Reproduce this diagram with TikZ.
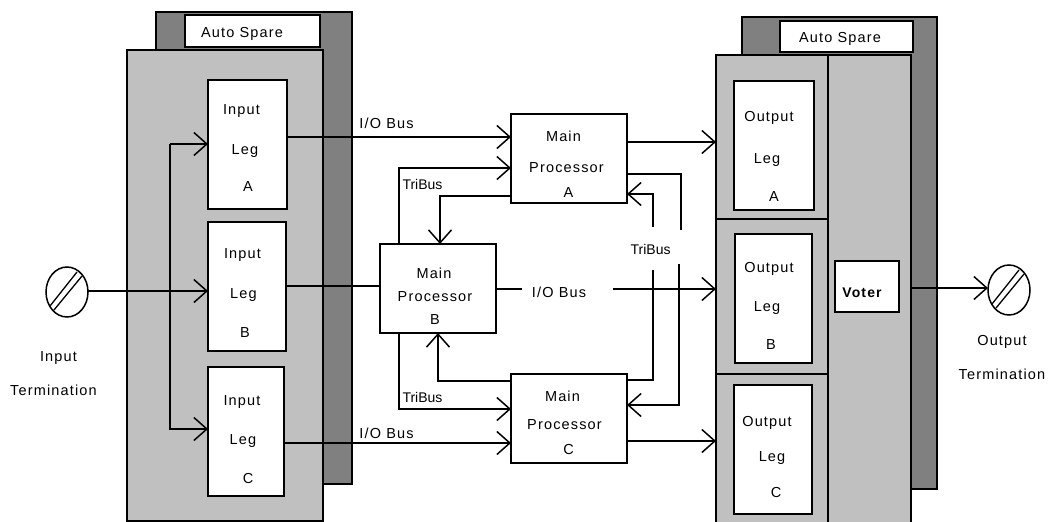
\documentclass[tikz,border=0pt]{standalone}
\usepackage{fontspec}
\setmainfont{Liberation Sans}[LetterSpace=8]
\newfontfamily\tightfont{Liberation Sans}
\usetikzlibrary{positioning, arrows.meta, shapes.geometric}
\definecolor{panelGrey}{HTML}{C0C0C0}
\definecolor{backGrey}{HTML}{808080}
\tikzset{
  blockbox/.style={draw=black, line width=1.5pt, inner sep=0pt, outer sep=0pt},
  backbox/.style={blockbox, fill=backGrey},
  panelbox/.style={blockbox, fill=panelGrey},
  whitebox/.style={blockbox, fill=white},
  lbl/.style={inner sep=0pt, text height=11pt, text depth=3pt, font=\fontsize{14.5}{16}\selectfont},
  tightlbl/.style={lbl, font=\fontsize{14}{16}\selectfont\tightfont},
  wire/.style={draw=black, line width=1.5pt},
  bus/.style={wire, -{Straight Barb[length=13pt,width=23pt,line width=1.5pt]}},
  termdisc/.style={ellipse, draw=black, line width=1.5pt, fill=white, inner sep=0pt, outer sep=0pt,
    minimum width=42pt, minimum height=50pt},
}
% corners left, top, right, bottom
\newcommand{\blk}[6]{%
  \node[#1, minimum width={#4-#2}, minimum height={#5-#3}] (#6) at ({(#2+#4)/2},{(#3+#5)/2}) {};
}
\newcommand{\termdisc}[3]{%
  \node[termdisc] (#1) at (#2,#3) {};
  \draw[line width=1.3pt] (#2-17,#3+14) -- (#2+10,#3-20);
  \draw[line width=1.3pt] (#2-13,#3+18) -- (#2+15,#3-16);
}
\begin{document}
\begin{tikzpicture}[x=1pt,y=-1pt]
  \useasboundingbox (0,0) rectangle (1050,522);
  % input side
  \blk{backbox}{156}{12}{352}{484}{inBack}
  \blk{whitebox}{185}{15}{320}{47}{inSpare}
  \blk{panelbox}{127}{50}{323}{521}{inPanel}
  \blk{whitebox}{208}{80}{287}{209}{legInA}
  \blk{whitebox}{208}{222}{286}{351}{legInB}
  \blk{whitebox}{208}{367}{284}{496}{legInC}
  % output side
  \blk{backbox}{742}{17}{937}{489}{outBack}
  \blk{whitebox}{780}{21}{913}{52}{outSpare}
  \blk{panelbox}{716}{55}{911}{530}{outPanel}
  \draw[wire] (828,55) -- (828,530);
  \draw[wire] (716,219) -- (828,219);
  \draw[wire] (716,374) -- (828,374);
  \blk{whitebox}{734}{81}{814}{210}{legOutA}
  \blk{whitebox}{735}{234}{812}{363}{legOutB}
  \blk{whitebox}{734}{385}{812}{514}{legOutC}
  \blk{whitebox}{835}{261}{899}{312}{voter}
  % processors
  \blk{whitebox}{511}{114}{627}{203}{procA}
  \blk{whitebox}{380}{244}{496}{333}{procB}
  \blk{whitebox}{511}{374}{627}{463}{procC}
  \termdisc{inTerm}{67}{292}
  \termdisc{outTerm}{1009}{290}
  % box texts
  \foreach \n/\x/\y/\t in {a/242/33/Auto Spare, b/840/38/Auto Spare,
      c/241.5/110/Input, d/245/150/Leg, e/248/187/A,
      f/242.5/254/Input, g/243.5/294/Leg, h/245/333/B,
      i/242/401/Input, j/243/440/Leg, k/248/479/C,
      l/563.5/137/Main, m/566.5/168/Processor, n/568.5/193/A,
      o/434/274/Main, p/435/297/Processor, q/435/320/B,
      r/562.5/397/Main, s/564.5/425/Processor, t/568.5/450/C,
      u/769/117/Output, v/767/159/Leg, w/774/197/A,
      x/769/268/Output, y/767/307/Leg, z/771/345/B,
      aa/767/422/Output, ab/772/457/Leg, ac/776/493/C,
      ad/58.5/357/Input, ae/53.5/391/Termination,
      af/1002/341/Output, ag/1002/375/Termination,
      ah/386.5/124/{I/O Bus}, ai/386.5/434/{I/O Bus}, aj/559/293/{I/O Bus}} {
    \node[lbl] (txt\n) at (\x,\y) {\t};
  }
  \node[tightlbl] (triA) at (422.5,185) {TriBus};
  \node[tightlbl] (triB) at (422.5,398) {TriBus};
  \node[tightlbl] (triR) at (650.6,250) {TriBus};
  \node[lbl, font=\fontsize{14}{16}\selectfont\bfseries] (voterTxt) at (862,293) {Voter};
  % gap ends of the cut wires
  \coordinate (ioGapL) at (522,289);
  \coordinate (ioGapR) at (613,289);
  \coordinate (upEnd) at (681,230);
  \coordinate (downStart) at (679,264);
  \coordinate (riseEnd) at (653,270);
  \coordinate (riseStart) at (653,227);
  % input wiring
  \draw[wire] (170,291) -- (170,144);
  \draw[bus] (170,144) -- (legInA.west |- 0,144);
  \draw[bus] (170,291) -- (170,429) -- (legInC.west |- 0,429);
  \draw[bus] (inTerm.east |- 0,291) -- (legInB.west |- 0,291);
  % legs to processors
  \draw[bus] (legInA.east |- 0,137) -- (procA.west |- 0,137);
  \draw[wire] (legInB.east |- 0,286) -- (procB.west |- 0,286);
  \draw[bus] (legInC.east |- 0,443) -- (procC.west |- 0,443);
  % processors to output legs
  \draw[bus] (procA.east |- 0,142) -- (outPanel.west |- 0,142);
  \draw[wire] (procB.east |- 0,289) -- (ioGapL);
  \draw[bus] (ioGapR) -- (outPanel.west |- 0,289);
  \draw[bus] (procC.east |- 0,441) -- (outPanel.west |- 0,441);
  % tribus left
  \draw[bus] (399,244) -- (399,168) -- (procA.west |- 0,168);
  \draw[bus] (procA.west |- 0,196) -- (440,196) -- (440,244);
  \draw[bus] (399,333) -- (399,409) -- (procC.west |- 0,409);
  \draw[bus] (procC.west |- 0,381) -- (438,381) -- (438,333);
  % tribus right
  \draw[wire] (procA.east |- 0,174) -- (681,174) -- (upEnd);
  \draw[bus] (downStart) -- (679,405) -- (procC.east |- 0,405);
  \draw[wire] (procC.east |- 0,380) -- (653,380) -- (riseEnd);
  \draw[bus] (riseStart) -- (653,194) -- (procA.east |- 0,194);
  % output termination
  \draw[bus] (outPanel.east |- 0,288) -- (outTerm.west |- 0,288);
\end{tikzpicture}
\end{document}
